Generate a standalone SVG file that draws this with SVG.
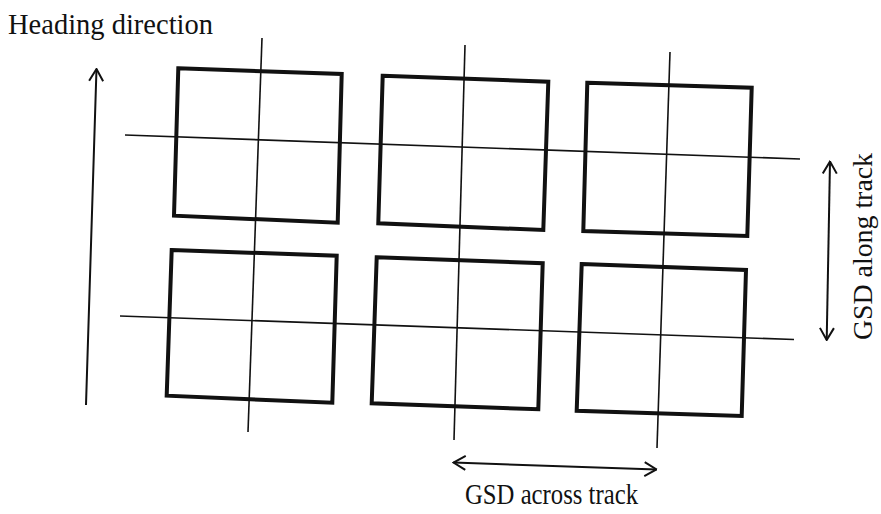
<svg xmlns="http://www.w3.org/2000/svg" width="881" height="514" viewBox="0 0 881 514">
<style>
.cell{fill:none;stroke:#111;stroke-width:4;stroke-linejoin:miter}
.grid{stroke:#111;stroke-width:1.6;fill:none}
.arrow{stroke:#111;stroke-width:2;fill:none}
.lbl{font-family:"Liberation Serif","Times New Roman",serif;fill:#111}
</style>
<defs>
<marker id="head" viewBox="0 0 14 16" refX="13" refY="8" markerWidth="14" markerHeight="16" markerUnits="userSpaceOnUse" orient="auto-start-reverse">
<path d="M1,1 L13,8 L1,15" fill="none" stroke="#111" stroke-width="2"/>
</marker>
</defs>
<rect width="881" height="514" fill="#fff"/>
<g id="cell-1-1"><polygon class="cell" points="178.3,68.3 341.7,74 337.7,222.7 174,215.7"/></g>
<g id="cell-1-2"><polygon class="cell" points="382.7,75.7 548.3,81.7 543.3,230 378.3,223.3"/></g>
<g id="cell-1-3"><polygon class="cell" points="587.3,82.7 751.7,87.7 747.3,236 583.3,231"/></g>
<g id="cell-2-1"><polygon class="cell" points="171.7,250 336.7,255.7 332.3,402.7 166.7,395.7"/></g>
<g id="cell-2-2"><polygon class="cell" points="376.7,257.3 542.7,263.3 538.3,409.3 371.7,403.3"/></g>
<g id="cell-2-3"><polygon class="cell" points="581.7,264 746,270 741.7,416 576.7,410.7"/></g>
<g id="grid-lines">
<line class="grid" x1="262" y1="38" x2="248" y2="432"/>
<line class="grid" x1="465" y1="45" x2="454" y2="440"/>
<line class="grid" x1="670" y1="52" x2="657" y2="448"/>
<line class="grid" x1="125" y1="135" x2="800" y2="159"/>
<line class="grid" x1="120" y1="316" x2="794" y2="339.5"/>
</g>
<g id="connectors">
<line class="arrow" x1="86" y1="405" x2="96.5" y2="69" marker-end="url(#head)"/>
<line class="arrow" x1="453.5" y1="462.5" x2="656.5" y2="469.5" marker-start="url(#head)" marker-end="url(#head)"/>
<line class="arrow" x1="830" y1="161.5" x2="826.7" y2="340" marker-start="url(#head)" marker-end="url(#head)"/>
</g>
<g id="label-heading"><text class="lbl" x="8" y="34" font-size="29" textLength="205" lengthAdjust="spacingAndGlyphs">Heading direction</text></g>
<g id="label-across"><text class="lbl" x="465" y="504" font-size="29" textLength="173" lengthAdjust="spacingAndGlyphs">GSD across track</text></g>
<g id="label-along"><text class="lbl" transform="translate(872,246.5) rotate(-90)" x="-93.5" y="0" font-size="28" textLength="187" lengthAdjust="spacingAndGlyphs">GSD along track</text></g>
</svg>
